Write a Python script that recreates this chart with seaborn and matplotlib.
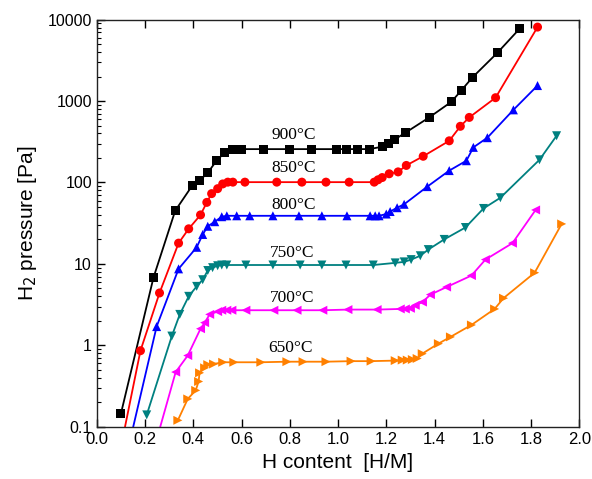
import numpy as np
import pandas as pd
import seaborn as sns
import matplotlib.pyplot as plt
from matplotlib.ticker import LogLocator, NullFormatter, FixedLocator, FuncFormatter

x_900 = [0.10, 0.235, 0.325, 0.395, 0.425, 0.46, 0.497, 0.53, 0.563, 0.60, 0.69, 0.80,
         0.89, 0.995, 1.037, 1.08, 1.13, 1.183, 1.21, 1.233, 1.28, 1.378, 1.47, 1.51,
         1.557, 1.66, 1.752]
p_900 = [0.145, 6.8, 45, 91, 105, 132, 186, 233, 257, 257, 257, 257, 257, 257, 257, 257,
         257, 275, 300, 335, 410, 630, 980, 1340, 1950, 3900, 7700]

x_850 = [0.181, 0.26, 0.339, 0.381, 0.43, 0.456, 0.476, 0.501, 0.522, 0.543, 0.564, 0.614,
         0.746, 0.85, 0.95, 1.046, 1.15, 1.166, 1.183, 1.212, 1.249, 1.283, 1.353, 1.461,
         1.507, 1.544, 1.653, 1.827]
p_850 = [0.86, 4.4, 18, 27, 40, 57, 73, 84, 96, 101, 101, 101, 101, 101, 101, 101, 101,
         108, 115, 128, 135, 162, 210, 325, 490, 630, 1100, 8100]

x_800 = [0.248, 0.339, 0.414, 0.439, 0.46, 0.489, 0.518, 0.539, 0.58, 0.634, 0.73, 0.838,
         0.933, 1.037, 1.133, 1.154, 1.17, 1.2, 1.216, 1.245, 1.274, 1.37, 1.461, 1.532,
         1.561, 1.619, 1.727, 1.827]
p_800 = [1.7, 8.7, 16, 23, 29, 33, 38, 39, 39, 39, 39, 39, 39, 39, 39, 39, 39, 41, 44, 49,
         54, 89, 140, 185, 270, 355, 780, 1550]

x_750 = [0.207, 0.311, 0.344, 0.381, 0.414, 0.439, 0.46, 0.48, 0.501, 0.518, 0.539, 0.618,
         0.73, 0.843, 0.933, 1.033, 1.146, 1.237, 1.274, 1.303, 1.341, 1.374, 1.44, 1.528,
         1.603, 1.673, 1.835, 1.906]
p_750 = [0.14, 1.3, 2.4, 4.0, 5.3, 6.4, 8.3, 9.0, 9.5, 9.7, 9.7, 9.7, 9.7, 9.7, 9.7, 9.7,
         9.7, 10.3, 10.6, 11.3, 12.6, 15, 20, 28, 48, 65, 190, 375]

x_700 = [0.327, 0.377, 0.43, 0.447, 0.468, 0.501, 0.518, 0.539, 0.56, 0.618, 0.734, 0.83,
         0.937, 1.041, 1.162, 1.258, 1.279, 1.3, 1.32, 1.35, 1.383, 1.45, 1.553, 1.611,
         1.723, 1.819]
p_700 = [0.47, 0.75, 1.6, 1.9, 2.4, 2.6, 2.7, 2.7, 2.7, 2.7, 2.7, 2.7, 2.7, 2.75, 2.75,
         2.8, 2.8, 2.85, 3.1, 3.4, 4.2, 5.2, 7.2, 11.3, 18, 46]

x_650 = [0.336, 0.377, 0.41, 0.422, 0.426, 0.447, 0.46, 0.484, 0.522, 0.568, 0.68, 0.788,
         0.855, 0.95, 1.054, 1.137, 1.237, 1.266, 1.287, 1.308, 1.328, 1.349, 1.416, 1.466,
         1.553, 1.649, 1.686, 1.815, 1.927]
p_650 = [0.12, 0.22, 0.28, 0.36, 0.46, 0.53, 0.58, 0.59, 0.62, 0.62, 0.62, 0.63, 0.63, 0.63,
         0.64, 0.64, 0.65, 0.66, 0.66, 0.67, 0.69, 0.79, 1.05, 1.27, 1.78, 2.8, 3.8, 7.8, 31]

# where the curves leave the bottom of the frame (no marker there)
tail_x = {'850': 0.117, '800': 0.151, '700': 0.263}
tail_p = {'850': 0.1, '800': 0.1, '700': 0.1}

temps = ['900', '850', '800', '750', '700', '650']
xs = [x_900, x_850, x_800, x_750, x_700, x_650]
ps = [p_900, p_850, p_800, p_750, p_700, p_650]
colors = ['black', 'red', 'blue', '#008080', '#FF00FF', '#FF8000']
markers = ['s', 'o', '^', 'v', '<', '>']
label_x = [0.817, 0.817, 0.817, 0.81, 0.81, 0.805]
label_p = [383, 151, 53, 13.6, 3.8, 0.93]

rows = []
for t, x, p in zip(temps, xs, ps):
    if t in tail_x:
        rows.append((t, tail_x[t], tail_p[t], False))
    for xi, pi in zip(x, p):
        rows.append((t, xi, pi, True))
df = pd.DataFrame(rows, columns=['T', 'H', 'P', 'mark'])

sns.set_style('ticks')
plt.rcParams['font.family'] = ['Liberation Sans', 'DejaVu Sans']
plt.rcParams['text.color'] = 'black'
plt.rcParams['axes.labelcolor'] = 'black'
plt.rcParams['xtick.color'] = 'black'
plt.rcParams['ytick.color'] = 'black'

fig = plt.figure(figsize=(5.92, 4.79), dpi=100)
ax = fig.add_axes([0.1635, 0.109, 0.815, 0.85])

pal = dict(zip(temps, colors))
mk = dict(zip(temps, markers))

sns.lineplot(data=df, x='H', y='P', hue='T', palette=pal, units='T', estimator=None,
             sort=False, linewidth=1.3, legend=False, ax=ax)
sns.scatterplot(data=df[df['mark']], x='H', y='P', hue='T', style='T', palette=pal,
                markers=mk, s=42, linewidth=0, legend=False, ax=ax, zorder=3)

ax.set_yscale('log')
ax.set_xlim(0.0, 2.0)
ax.set_ylim(0.1, 10000)

ax.xaxis.set_major_locator(FixedLocator(np.arange(0, 2.01, 0.2)))
ax.xaxis.set_major_formatter(FuncFormatter(lambda v, pos: f'{v:.1f}'))
ax.yaxis.set_major_locator(LogLocator(base=10, numticks=10))
ax.yaxis.set_minor_locator(LogLocator(base=10, subs=np.arange(2, 10), numticks=20))
ax.yaxis.set_minor_formatter(NullFormatter())
ax.yaxis.set_major_formatter(FuncFormatter(lambda v, pos: f'{v:g}'))

ax.tick_params(axis='x', which='major', direction='in', top=True, length=6, width=1,
               labelsize=12, pad=4)
ax.tick_params(axis='y', which='major', direction='in', right=False, length=6, width=1,
               labelsize=11.5)
ax.tick_params(axis='y', which='minor', direction='in', right=False, length=3, width=0.8)
for s in ax.spines.values():
    s.set_linewidth(1.0)
    s.set_color('#222222')

for t, lx, lp in zip(temps, label_x, label_p):
    ax.text(lx, lp, f'{t}°C', ha='center', va='center', fontsize=12.5, color='black',
            family=['Liberation Serif', 'DejaVu Serif'])

ax.set_xlabel('H content  [H/M]', fontsize=15, labelpad=4)
ax.set_ylabel('H$_2$ pressure [Pa]', fontsize=15, labelpad=6)

fig.savefig('out.png', dpi=100)
